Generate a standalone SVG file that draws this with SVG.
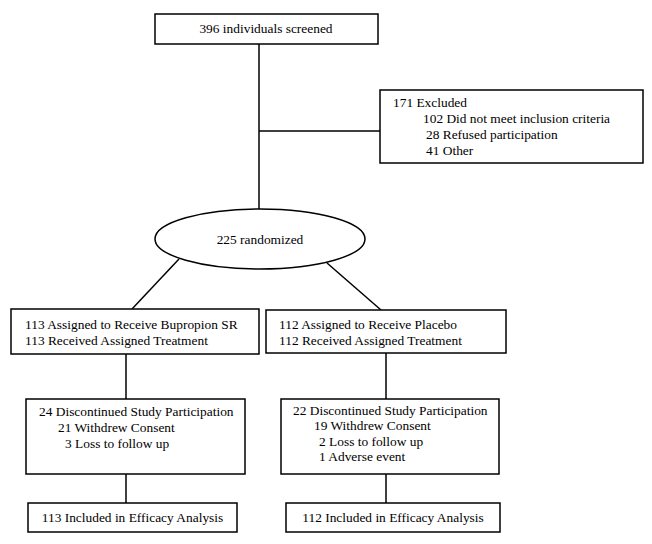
<svg xmlns="http://www.w3.org/2000/svg" width="652" height="544" viewBox="0 0 652 544">
<style>
.box{fill:#fff;stroke:#000;stroke-width:1.5}
.ln{stroke:#000;stroke-width:1.5;fill:none}
text{font-family:"Liberation Serif","Times New Roman",serif;font-size:13.4px;fill:#000}
.c{text-anchor:middle}
</style>
<rect width="652" height="544" fill="#fff"/>
<g id="connectors">
<line class="ln" x1="259" y1="44" x2="259" y2="209"/>
<line class="ln" x1="259" y1="131" x2="380" y2="131"/>
<line class="ln" x1="179" y1="259" x2="132" y2="309"/>
<line class="ln" x1="327" y1="263" x2="381" y2="310"/>
<line class="ln" x1="126" y1="354" x2="126" y2="399"/>
<line class="ln" x1="386" y1="353" x2="386" y2="399"/>
<line class="ln" x1="126" y1="474" x2="126" y2="503"/>
<line class="ln" x1="386" y1="474" x2="386" y2="503"/>
</g>
<g id="screened">
<rect class="box" x="155" y="14" width="223" height="30"/>
<text class="c" x="266" y="33">396 individuals screened</text>
</g>
<g id="excluded">
<rect class="box" x="380" y="90" width="263" height="73"/>
<text x="393" y="107">171 Excluded</text>
<text x="423" y="123">102 Did not meet inclusion criteria</text>
<text x="426" y="139">28  Refused participation</text>
<text x="426" y="155">41  Other</text>
</g>
<g id="randomized">
<ellipse class="box" cx="260" cy="239" rx="105" ry="30"/>
<text class="c" x="260" y="244">225 randomized</text>
</g>
<g id="bupropion">
<rect class="box" x="11" y="309" width="248" height="45"/>
<text x="25" y="329">113 Assigned to Receive Bupropion SR</text>
<text x="25" y="345">113 Received Assigned Treatment</text>
</g>
<g id="placebo">
<rect class="box" x="266" y="310" width="240" height="43"/>
<text x="279" y="329">112 Assigned to Receive Placebo</text>
<text x="279" y="345">112 Received Assigned Treatment</text>
</g>
<g id="disc-bupropion">
<rect class="box" x="26" y="399" width="219" height="75"/>
<text x="39" y="416">24 Discontinued Study Participation</text>
<text x="58" y="432">21 Withdrew Consent</text>
<text x="65" y="448">3 Loss to follow up</text>
</g>
<g id="disc-placebo">
<rect class="box" x="281" y="399" width="218" height="75"/>
<text x="293" y="415">22 Discontinued Study Participation</text>
<text x="314" y="430">19 Withdrew Consent</text>
<text x="319" y="446">2 Loss to follow up</text>
<text x="319" y="461">1 Adverse event</text>
</g>
<g id="eff-bupropion">
<rect class="box" x="28" y="503" width="209" height="29"/>
<text class="c" x="132.5" y="522">113 Included in Efficacy Analysis</text>
</g>
<g id="eff-placebo">
<rect class="box" x="286" y="503" width="214" height="29"/>
<text class="c" x="393" y="522">112 Included in Efficacy Analysis</text>
</g>
</svg>
